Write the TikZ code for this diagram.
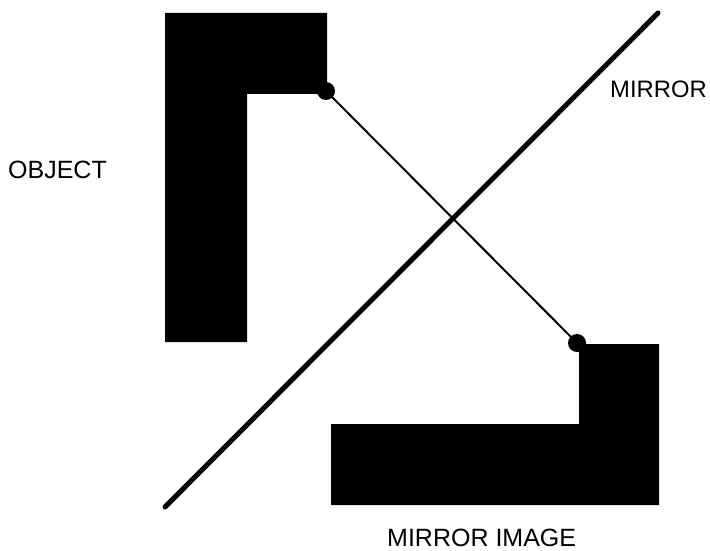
\documentclass[tikz,border=0pt]{standalone}
\usepackage{fontspec}
\setmainfont{Liberation Sans}
\begin{document}
\begin{tikzpicture}[x=1pt,y=-1pt,
  solid/.style={fill=black,draw=none},
  dotnode/.style={circle,fill=black,inner sep=0pt,minimum size=18pt},
  lbl/.style={font=\fontsize{25}{28}\selectfont,inner sep=0pt,text depth=0pt,anchor=base west},
  mirrorline/.style={line width=5pt,line cap=round},
  ray/.style={line width=2pt}]
\useasboundingbox (0,0) rectangle (710,551);
% object
\fill[solid] (165,13) -- (327,13) -- (327,94) -- (247,94) -- (247,342) -- (165,342) -- cycle;
% image
\fill[solid] (579,344) -- (659,344) -- (659,505) -- (331,505) -- (331,424) -- (579,424) -- cycle;
% mirror
\coordinate (m1) at (165,507);
\coordinate (m2) at (658,13);
\draw[mirrorline] (m1) -- (m2);
% dots and ray
\node[dotnode] (d1) at (326,91) {};
\node[dotnode] (d2) at (577,343) {};
\draw[ray] (d1.center) -- (d2.center);
% labels
\node[lbl] (obj) at (8,178) {OBJECT};
\node[lbl,font=\fontsize{23.8}{28}\selectfont] (mir) at (610,97) {MIRROR};
\node[lbl] (img) at (387,546) {MIRROR IMAGE};
\end{tikzpicture}
\end{document}
